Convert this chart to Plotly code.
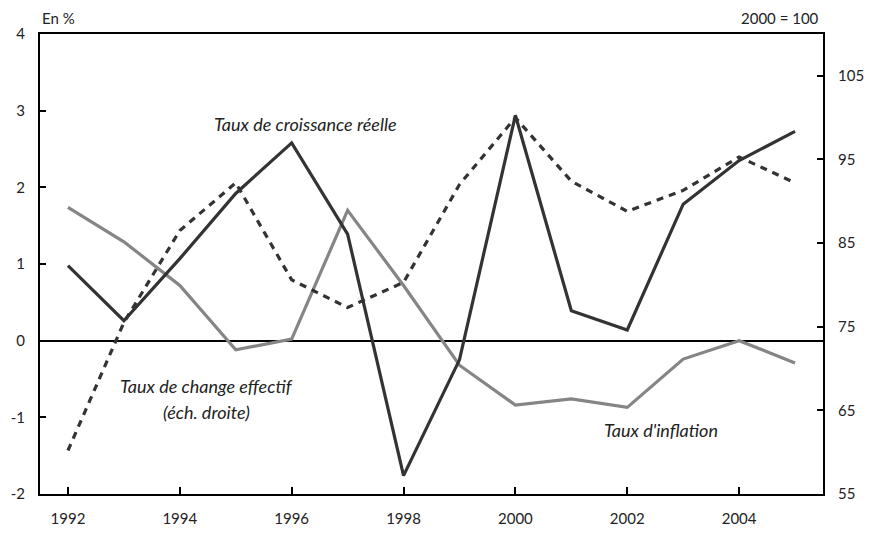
import plotly.graph_objects as go

years = list(range(1992, 2006))
croissance = [0.98, 0.26, 1.07, 1.92, 2.58, 1.39, -1.76, -0.25, 2.94, 0.39, 0.14, 1.78, 2.35, 2.73]
inflation = [1.74, 1.29, 0.72, -0.12, 0.02, 1.70, 0.72, -0.32, -0.84, -0.76, -0.87, -0.24, 0.0, -0.29]
change_effectif = [60.2, 75.5, 86.5, 92.2, 80.6, 77.3, 80.3, 92.0, 100.0, 92.4, 88.8, 91.3, 95.3, 92.2]

x_ticks = [1992, 1994, 1996, 1998, 2000, 2002, 2004]
left_ticks = [-2, -1, 0, 1, 2, 3, 4]
left_labels = ["-2", "-1", "0", "1", "2", "3", "4"]
right_ticks = [55, 65, 75, 85, 95, 105]

FONT = "Lato"
TXT = "#222222"
dark = "#333333"
grey = "#858585"

fig = go.Figure()
fig.add_trace(go.Scatter(x=years, y=change_effectif, yaxis="y2", mode="lines",
                         line=dict(color=dark, width=3.2, dash="7px,6px"),
                         name="Taux de change effectif"))
fig.add_trace(go.Scatter(x=years, y=inflation, mode="lines",
                         line=dict(color=grey, width=3.2), name="Taux d'inflation"))
fig.add_trace(go.Scatter(x=years, y=croissance, mode="lines",
                         line=dict(color=dark, width=3.2), name="Taux de croissance réelle"))

fig.update_layout(
    width=869, height=535,
    margin=dict(l=40, r=46, t=34, b=41, autoexpand=False),
    paper_bgcolor="white", plot_bgcolor="white",
    showlegend=False,
    font=dict(family=FONT, size=15, color=TXT),
    xaxis=dict(range=[1991.5, 2005.5], tickvals=x_ticks, ticks="inside", ticklen=7,
               tickwidth=2, tickcolor="black", showline=True, linecolor="black",
               linewidth=2, mirror=True, showgrid=False, zeroline=False,
               ticklabelstandoff=10, automargin=False),
    yaxis=dict(range=[-2, 4], tickvals=left_ticks, ticktext=left_labels, ticks="inside",
               ticklen=6, tickwidth=1.5, tickcolor="black", showline=True, linecolor="black",
               linewidth=2, showgrid=False, zeroline=True, zerolinecolor="black",
               zerolinewidth=1.5, ticklabelstandoff=10, automargin=False),
    yaxis2=dict(range=[55, 110], tickvals=right_ticks, ticks="inside", ticklen=6,
                tickwidth=1.5, tickcolor="black", showline=True, linecolor="black",
                linewidth=2, showgrid=False, zeroline=False, overlaying="y",
                side="right", ticklabelstandoff=10, automargin=False),
)

ital = dict(family=FONT, size=18, color=TXT, style="italic")
plain = dict(family=FONT, size=15, color=TXT)
fig.add_annotation(xref="paper", yref="paper", x=0.0, y=1.035, xanchor="left", yanchor="middle",
                   text="En %", showarrow=False, font=plain)
fig.add_annotation(xref="paper", yref="paper", x=0.997, y=1.035, xanchor="right", yanchor="middle",
                   text="2000 = 100", showarrow=False, font=plain)
fig.add_annotation(x=1996.24, y=2.83, text="Taux de croissance réelle", showarrow=False, font=ital)
fig.add_annotation(x=1994.47, y=-0.59, text="Taux de change effectif", showarrow=False, font=ital)
fig.add_annotation(x=1994.47, y=-0.93, text="(éch. droite)", showarrow=False, font=ital)
fig.add_annotation(x=2002.6, y=-1.16, text="Taux d'inflation", showarrow=False, font=ital)

fig.write_html("out.html", config={"displayModeBar": False},
               post_script="document.body.style.margin='0';")
